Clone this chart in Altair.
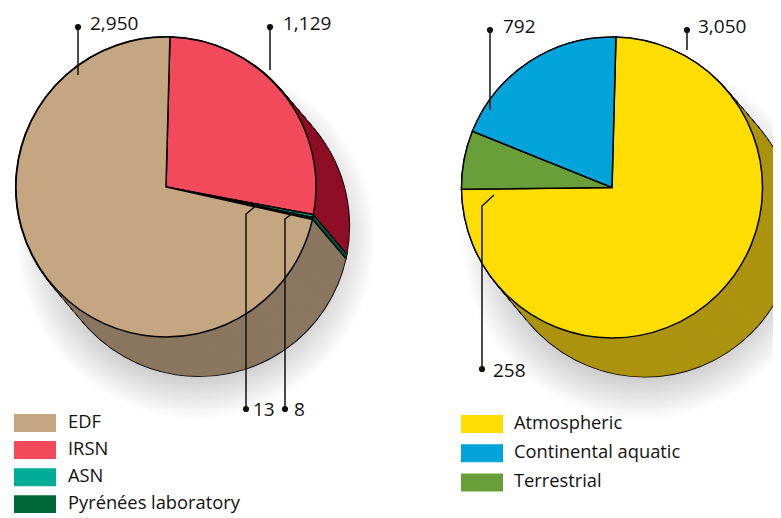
import math
import altair as alt
import pandas as pd

# ---- values (clockwise drawing order) ----
left_names = ["IRSN", "ASN", "Pyrénées laboratory", "EDF"]
left_values = [1129, 13, 8, 2950]
right_names = ["Atmospheric", "Terrestrial", "Continental aquatic"]
right_values = [3050, 258, 792]

left_legend = ["EDF", "IRSN", "ASN", "Pyrénées laboratory"]
left_legend_colors = ["#C4A680", "#F24A5A", "#00AC97", "#006838"]
right_legend = ["Atmospheric", "Continental aquatic", "Terrestrial"]
right_legend_colors = ["#FFDD00", "#00A3DA", "#689F38"]

dark = {"EDF": "#8B7760", "IRSN": "#8F0F26", "ASN": "#00584D", "Pyrénées laboratory": "#06331F",
        "Atmospheric": "#AC9410", "Continental aquatic": "#005E80", "Terrestrial": "#3F6022"}

label_texts = ["2,950", "1,129", "13", "8", "792", "3,050", "258"]

# ---- layout (page pixels minus the 8px margin) ----
M = 8
TOTAL = 4100
ROT = math.radians(1.5)
LEFT = (166 - M, 187 - M, 150)
RIGHT = (612 - M, 187.5 - M, 150.5)
DEPTH = (33, 39)
STEPS = 44
FONT = "Open Sans"
INK = "#111111"

label_x = [90, 283, 253, 294, 503, 698, 493]
label_y = [24, 24, 410, 410, 27, 27, 371]
leaders = [
    [(78, 27), (78, 75)],
    [(270, 27), (270, 70)],
    [(246, 409), (246, 214), (258, 204)],
    [(285, 409), (285, 219), (296, 211)],
    [(490, 30), (490, 110)],
    [(687, 30), (687, 50)],
    [(482, 369), (482, 206), (494, 195)],
]


def slices(names, values, center):
    rows, start = [], 0
    for n, v in zip(names, values):
        rows.append({"name": n, "start": start, "end": start + v,
                     "cx": center[0], "cy": center[1], "dark": dark[n]})
        start += v
    return rows


left = slices(left_names, left_values, LEFT)
right = slices(right_names, right_values, RIGHT)

# extruded body: copies of the pie from the far face to the near face
body_rows = []
seq = 0
for base in (left, right):
    for i in range(STEPS, -1, -1):
        t = i / STEPS
        for r in base:
            seq += 1
            body_rows.append({**r, "cx": r["cx"] + DEPTH[0] * t, "cy": r["cy"] + DEPTH[1] * t, "seq": seq})
body = pd.DataFrame(body_rows)

# soft shadow
shadow_rows = []
for c in (LEFT, RIGHT):
    for k in range(18):
        shadow_rows.append({"cx": c[0] + 30, "cy": c[1] + 52, "r": c[2] + 29 - 2.6 * k,
                            "start": 0, "end": TOTAL})
shadow = pd.DataFrame(shadow_rows)

theta = alt.Theta("start:Q", stack=None,
                  scale=alt.Scale(domain=[0, TOTAL], range=[ROT, ROT + 2 * math.pi]))
theta2 = alt.Theta2("end:Q")
X = alt.X("cx:Q", scale=None, axis=None)
Y = alt.Y("cy:Q", scale=None, axis=None)

shadow_layer = alt.Chart(shadow).mark_arc(fill="#000000", fillOpacity=0.012).encode(
    x=X, y=Y, theta=theta, theta2=theta2, radius=alt.Radius("r:Q", scale=None))

silhouette = alt.Chart(body).mark_arc(outerRadius=150, fill="#000000", stroke="#000000", strokeWidth=2.2).encode(
    x=X, y=Y, theta=theta, theta2=theta2, order=alt.Order("seq:Q"))

body_layer = alt.Chart(body).mark_arc(outerRadius=150, strokeWidth=0.5).encode(
    x=X, y=Y, theta=theta, theta2=theta2,
    fill=alt.Fill("dark:N", scale=None),
    stroke=alt.Stroke("dark:N", scale=None),
    order=alt.Order("seq:Q"))

# seams on the visible side of the body, at the slice boundaries of the left pie
seam_rows = []
for b, v in enumerate([left_values[0], left_values[0] + left_values[1] + left_values[2]]):
    a = ROT + 2 * math.pi * v / TOTAL
    x0 = LEFT[0] + LEFT[2] * math.sin(a)
    y0 = LEFT[1] - LEFT[2] * math.cos(a)
    seam_rows += [{"id": b, "o": 0, "cx": x0, "cy": y0},
                  {"id": b, "o": 1, "cx": x0 + DEPTH[0], "cy": y0 + DEPTH[1]}]
seams = alt.Chart(pd.DataFrame(seam_rows)).mark_line(color="#000000", strokeWidth=1.1).encode(
    x=X, y=Y, detail="id:N", order="o:Q")

left_top = alt.Chart(pd.DataFrame(left)).mark_arc(outerRadius=LEFT[2], stroke="#000000", strokeWidth=1.5).encode(
    x=X, y=Y, theta=theta, theta2=theta2,
    color=alt.Color("name:N", scale=alt.Scale(domain=left_legend, range=left_legend_colors),
                    legend=alt.Legend(orient="none", legendX=13, legendY=401, title=None,
                                      symbolType="M-1.5,-0.643H1.5V0.643H-1.5Z", symbolSize=784,
                                      symbolStrokeWidth=0, symbolOpacity=1, labelOffset=19,
                                      labelFont=FONT, labelFontSize=18.3, labelColor=INK,
                                      rowPadding=3.1, padding=0, labelLimit=300)))

right_top = alt.Chart(pd.DataFrame(right)).mark_arc(outerRadius=RIGHT[2], stroke="#000000", strokeWidth=1.5).encode(
    x=X, y=Y, theta=theta, theta2=theta2,
    color=alt.Color("name2:N", scale=alt.Scale(domain=right_legend, range=right_legend_colors),
                    legend=alt.Legend(orient="none", legendX=460, legendY=402, title=None,
                                      symbolType="M-1.5,-0.643H1.5V0.643H-1.5Z", symbolSize=784,
                                      symbolStrokeWidth=0, symbolOpacity=1, labelOffset=18,
                                      labelFont=FONT, labelFontSize=18.3, labelColor=INK,
                                      rowPadding=5.2, padding=0, labelLimit=300))
).transform_calculate(name2="datum.name")

line_rows = [{"id": i, "o": j, "cx": p[0] - M, "cy": p[1] - M}
             for i, path in enumerate(leaders) for j, p in enumerate(path)]
lines = alt.Chart(pd.DataFrame(line_rows)).mark_line(color=INK, strokeWidth=1.5).encode(
    x=X, y=Y, detail="id:N", order="o:Q")

dots = alt.Chart(pd.DataFrame([{"cx": path[0][0] - M, "cy": path[0][1] - M} for path in leaders])).mark_circle(
    color=INK, opacity=1, size=38).encode(x=X, y=Y)

labels = alt.Chart(pd.DataFrame({"t": label_texts,
                                 "cx": [v - M for v in label_x],
                                 "cy": [v - M for v in label_y]})).mark_text(
    font=FONT, fontSize=19, align="left", baseline="middle", color=INK).encode(x=X, y=Y, text="t:N")

chart = alt.layer(shadow_layer, silhouette, body_layer, seams, left_top, right_top, lines, dots, labels).resolve_scale(
    color="independent"
).properties(width=765, height=505, autosize=alt.AutoSizeParams(type="none"), padding=0,
             background="#FFFFFF").configure_view(stroke=None)

chart.save("out.html", embed_options={"renderer": "svg", "actions": False})
